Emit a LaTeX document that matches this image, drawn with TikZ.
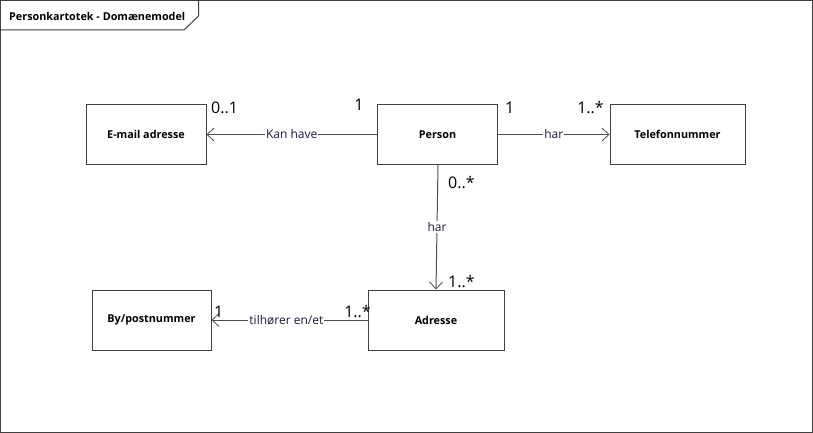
\documentclass[tikz,border=0pt]{standalone}
\usepackage{fontspec}
\setmainfont{Open Sans}
\usetikzlibrary{arrows.meta}
\definecolor{linegray}{HTML}{505050}
\definecolor{boxgray}{HTML}{404040}
\definecolor{lbl}{HTML}{1A1A40}
\tikzset{
  cls/.style={draw=boxgray, line width=1pt, fill=white, font=\fontsize{10.8}{12}\selectfont\bfseries, inner sep=0pt},
  assoc/.style={draw=linegray, line width=1pt, -{Straight Barb[length=7pt,width=13pt,line width=0.8pt]}},
  elabel/.style={fill=white, inner sep=1pt, font=\fontsize{12}{14}\selectfont, text=lbl},
  mult/.style={inner sep=0pt, font=\fontsize{16}{18}\selectfont, text=black},
}
\begin{document}
\begin{tikzpicture}[x=1pt,y=-1pt]
\useasboundingbox (0,0) rectangle (813,433);
\fill[white] (0,0) rectangle (813,433);
% frame
\draw[boxgray, line width=1pt] (0.5,0.5) rectangle (812,432);
\draw[boxgray, line width=1pt] (0.5,30) -- (184,30) -- (198.5,16) -- (198.5,0.5);
\node[anchor=west, inner sep=0pt, font=\fontsize{10.8}{12}\selectfont\bfseries] (title) at (9,16) {Personkartotek - Domænemodel};
% classes
\node[cls, minimum width=120pt, minimum height=59pt] (email) at (146,134.5) {E-mail adresse};
\node[cls, minimum width=120pt, minimum height=59pt] (person) at (437.5,134.5) {Person};
\node[cls, minimum width=135pt, minimum height=59pt] (tel) at (677.5,134.5) {Telefonnummer};
\node[cls, minimum width=136pt, minimum height=60pt] (adr) at (436,320) {Adresse};
\node[cls, minimum width=119pt, minimum height=60pt] (by) at (151.5,320) {By/postnummer};
% associations
\draw[assoc] (person.west) -- node[elabel] (l1) {Kan have} (email.east);
\draw[assoc] (person.east) -- node[elabel] (l2) {har} (tel.west);
\draw[assoc] ([xshift=0.5pt]person.south) -- node[elabel, pos=0.5] (l3) {har} (adr.north);
\draw[assoc] (adr.west) -- node[elabel, pos=0.52] (l4) {tilhører en/et} (by.east);
% multiplicities
\node[mult, anchor=south west] (m1) at (211,114) {0..1};
\node[mult, anchor=south] (m2) at (359,111) {1};
\node[mult, anchor=south west] (m3) at (505,114) {1};
\node[mult, anchor=south east] (m4) at (604,114) {1..*};
\node[mult, anchor=north west] (m5) at (448,176) {0..*};
\node[mult, anchor=south west] (m6) at (448,288) {1..*};
\node[mult, anchor=south west] (m7) at (214,318) {1};
\node[mult, anchor=south east] (m8) at (371,318) {1..*};
\end{tikzpicture}
\end{document}
